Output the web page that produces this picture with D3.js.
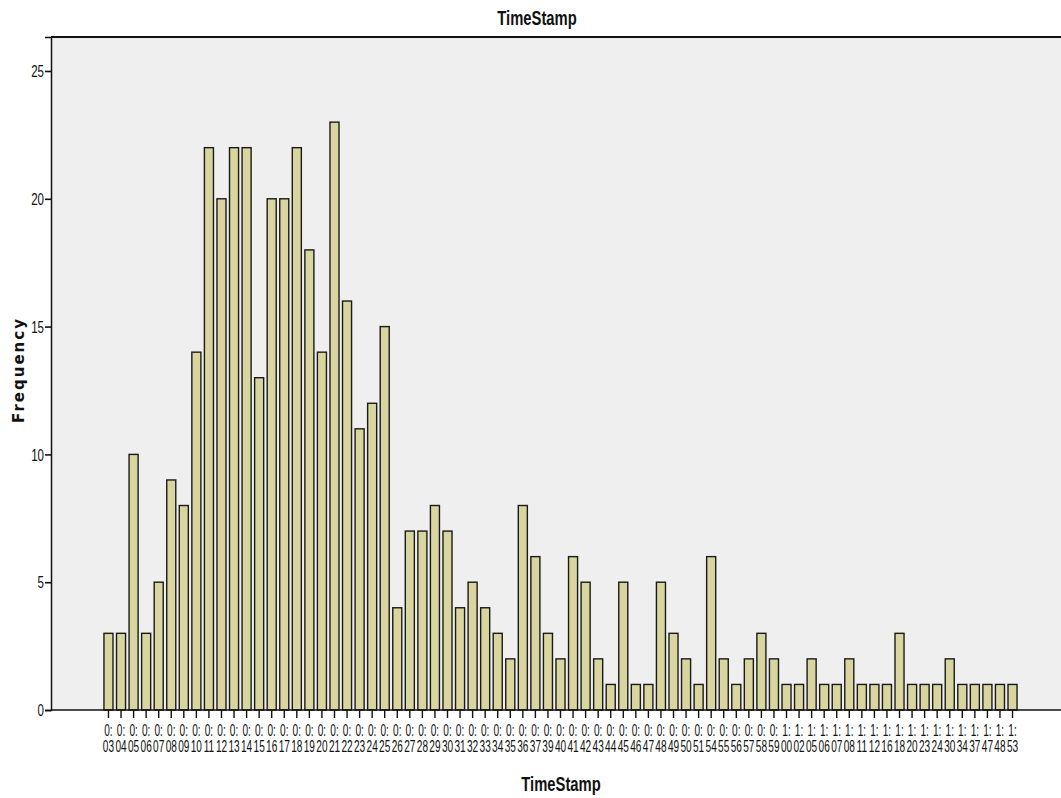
<!DOCTYPE html>
<html><head><meta charset="utf-8">
<script src="https://cdn.jsdelivr.net/npm/d3@7"></script>
<style>
html,body{margin:0;padding:0;background:#fff;}
svg{display:block;}
</style></head>
<body>
<svg id="chart" width="1061" height="798"></svg>
<script>
const categories = ["0:03","0:04","0:05","0:06","0:07","0:08","0:09","0:10","0:11","0:12","0:13","0:14","0:15","0:16","0:17","0:18","0:19","0:20","0:21","0:22","0:23","0:24","0:25","0:26","0:27","0:28","0:29","0:30","0:31","0:32","0:33","0:34","0:35","0:36","0:37","0:39","0:40","0:41","0:42","0:43","0:44","0:45","0:46","0:47","0:48","0:49","0:50","0:51","0:54","0:55","0:56","0:57","0:58","0:59","1:00","1:02","1:05","1:06","1:07","1:08","1:11","1:12","1:16","1:18","1:20","1:23","1:24","1:30","1:34","1:37","1:47","1:48","1:53"];
const frequency = [3,3,10,3,5,9,8,14,22,20,22,22,13,20,20,22,18,14,23,16,11,12,15,4,7,7,8,7,4,5,4,3,2,8,6,3,2,6,5,2,1,5,1,1,5,3,2,1,6,2,1,2,3,2,1,1,2,1,1,2,1,1,1,3,1,1,1,2,1,1,1,1,1];
const yTicks = [0,5,10,15,20,25];
const title = "TimeStamp";
const xTitle = "TimeStamp";
const yTitle = "Frequency";

const FONT = "Liberation Sans, Arial, sans-serif";
const svg = d3.select("#chart");
const plotLeft = 51, plotRight = 1061, plotTop = 37, plotBottom = 710;

const x = d3.scaleBand().domain(categories).range([102.2, 1018.8]).paddingInner(0.28).paddingOuter(0.14);
const y = d3.scaleLinear().domain([0, 26.33]).range([plotBottom, plotTop]);

// plot background
svg.append("rect").attr("x", plotLeft).attr("y", plotTop)
  .attr("width", plotRight - plotLeft).attr("height", plotBottom - plotTop)
  .attr("fill", "#efefef");

// top border
svg.append("line").attr("x1", plotLeft).attr("x2", plotRight).attr("y1", plotTop).attr("y2", plotTop)
  .attr("stroke", "#111").attr("stroke-width", 2);

// bars
svg.append("g").selectAll("rect").data(frequency).join("rect")
  .attr("x", (d, i) => x(categories[i]))
  .attr("y", d => y(d))
  .attr("width", x.bandwidth())
  .attr("height", d => plotBottom - y(d))
  .attr("fill", "#d9d59f")
  .attr("stroke", "#1a1a1a")
  .attr("stroke-width", 1.4);

// y axis
const yAxis = svg.append("g").attr("transform", `translate(${plotLeft},0)`)
  .call(d3.axisLeft(y).tickValues(yTicks).tickSize(6).tickFormat(d3.format("d")));
yAxis.select(".domain").attr("stroke", "#111").attr("stroke-width", 1.5);
yAxis.selectAll(".tick line").attr("stroke", "#111").attr("stroke-width", 1.6);
yAxis.selectAll(".tick text")
  .attr("x", 0).attr("dy", "0.36em")
  .attr("transform", "translate(-7,0) scale(0.72,1)")
  .attr("font-family", FONT).attr("font-size", 16).attr("fill", "#111");

// x axis line
svg.append("line").attr("x1", plotLeft).attr("x2", plotRight).attr("y1", plotBottom).attr("y2", plotBottom)
  .attr("stroke", "#111").attr("stroke-width", 1.5);

// x ticks
const xAxis = svg.append("g").attr("transform", `translate(0,${plotBottom})`)
  .call(d3.axisBottom(x).tickSize(8).tickFormat(""));
xAxis.select(".domain").remove();
xAxis.selectAll(".tick line").attr("stroke", "#111").attr("stroke-width", 1.4);
xAxis.selectAll(".tick").each(function(d) {
  const parts = d.split(":");
  const t = d3.select(this).append("text")
    .attr("text-anchor", "middle").attr("font-family", FONT).attr("font-size", 16)
    .attr("fill", "#111").attr("transform", "scale(0.63,1)");
  t.append("tspan").attr("x", 0).attr("y", 26).text(parts[0] + ":");
  t.append("tspan").attr("x", 0).attr("y", 42).text(parts[1]);
});

// titles
svg.append("text").attr("transform", "translate(537,25) scale(0.74,1)")
  .attr("text-anchor", "middle").attr("font-family", FONT).attr("font-size", 20)
  .attr("font-weight", "bold").attr("fill", "#111").text(title);
svg.append("text").attr("transform", "translate(561,791) scale(0.74,1)")
  .attr("text-anchor", "middle").attr("font-family", FONT).attr("font-size", 20)
  .attr("font-weight", "bold").attr("fill", "#111").text(xTitle);
svg.append("text").attr("transform", "translate(24,370) rotate(-90)")
  .attr("text-anchor", "middle").attr("font-family", "DejaVu Sans, Verdana, sans-serif")
  .attr("font-size", 15).attr("font-weight", "bold").attr("letter-spacing", 2).attr("fill", "#111").text(yTitle);
</script>
</body></html>
